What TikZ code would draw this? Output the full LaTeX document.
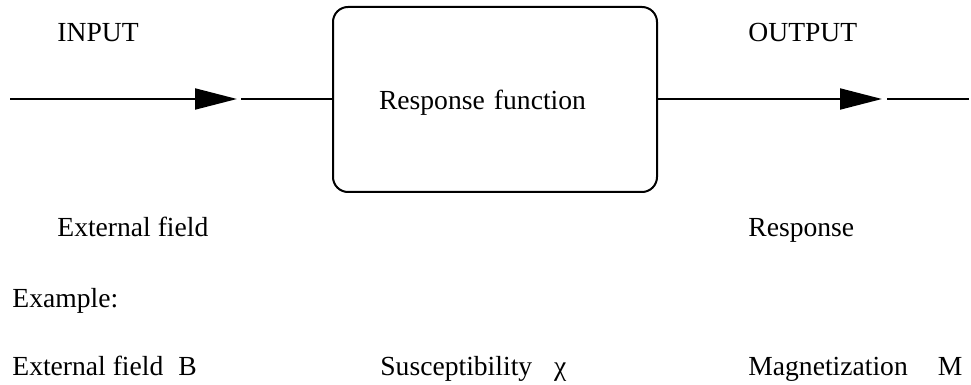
\documentclass[tikz,border=0pt]{standalone}
\usepackage{fontspec}
\setmainfont{Liberation Serif}
\usepackage{tikz}
\usetikzlibrary{arrows.meta}

\begin{document}
\begin{tikzpicture}[x=0.5pt, y=-0.5pt, font=\fontsize{13.8}{16}\selectfont]
\tikzset{
  block/.style = {rectangle, draw, line width=1pt, rounded corners=7.5pt, minimum width=162pt, minimum height=92.5pt, inner xsep=23pt, text width=116pt, align=left},
  line/.style = {draw, line width=1pt},
  flow/.style = {line, -{Triangle[length=21pt, width=10.5pt]}},
  txt/.style = {anchor=base west, inner sep=0pt}
}
\useasboundingbox (0,0) rectangle (971,385);
% block and signal path
\node [block] (resp) at (495,99.5) {\raisebox{-5.25pt}[0pt][0pt]{Response function}};
\coordinate (in_start) at (10,99);
\coordinate (in_tip) at (237,99);
\coordinate (in_gap) at (241,99);
\coordinate (out_tip) at (882,99);
\coordinate (out_gap) at (887,99);
\coordinate (out_end) at (969,99);
\path [flow] (in_start) -- (in_tip);
\path [line] (in_gap) -- (resp.west |- in_gap);
\path [flow] (resp.east |- out_tip) -- (out_tip);
\path [line] (out_gap) -- (out_end);
% texts
\node [txt] (input) at (57,42) {INPUT};
\node [txt] (output) at (748,42) {OUTPUT};
\node [txt] (field) at (57,237) {External field};
\node [txt] (response) at (748,237) {Response};
\node [txt] (example) at (12,307) {Example:};
\node [txt] (ex_field) at (12,375) {External field\hspace{7.5pt}B};
\node [txt] (ex_chi) at (380,375) {Susceptibility\hspace{11pt}χ};
\node [txt] (ex_mag) at (748,375) {Magnetization\hspace{15pt}M};
\end{tikzpicture}
\end{document}
